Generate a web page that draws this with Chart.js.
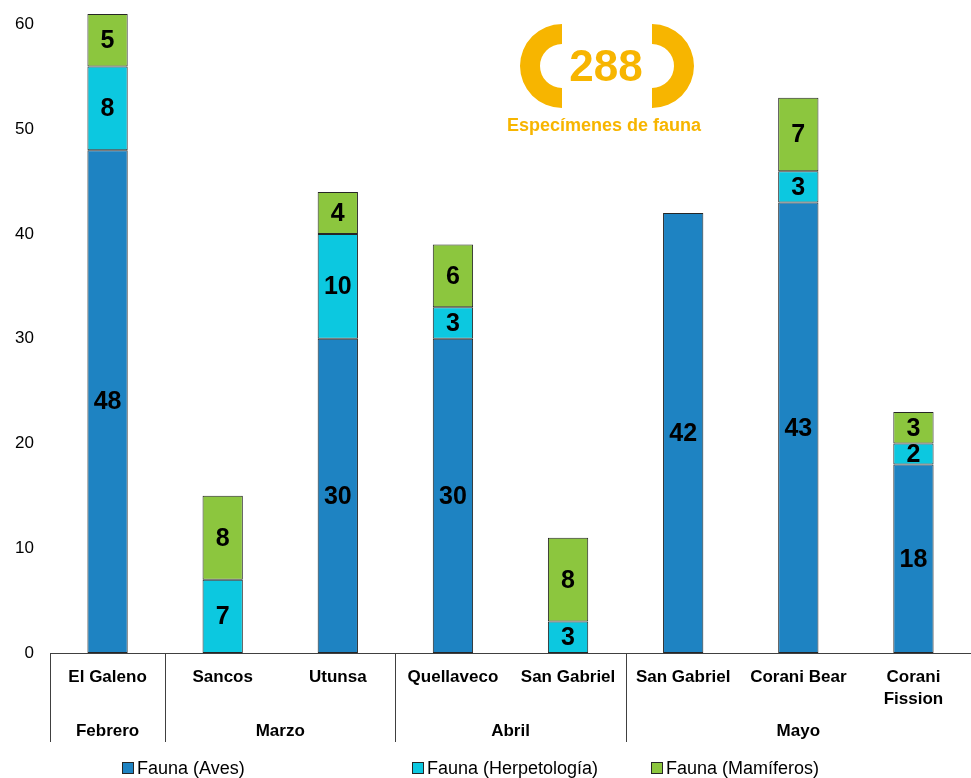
<!DOCTYPE html>
<html>
<head>
<meta charset="utf-8">
<script src="https://cdn.jsdelivr.net/npm/chart.js@4.4.0/dist/chart.umd.min.js"></script>
<style>
  html, body { margin: 0; padding: 0; background: #fff; }
  #wrap { position: relative; width: 971px; height: 778px; }
</style>
</head>
<body>
<div id="wrap"><canvas id="grafica" width="971" height="778"></canvas></div>
<script>
// datos del grafico
var proyectos = ['El Galeno', 'Sancos', 'Utunsa', 'Quellaveco', 'San Gabriel', 'San Gabriel', 'Corani Bear', ['Corani', 'Fission']];
var meses = ['Febrero', 'Marzo', 'Abril', 'Mayo'];
var mesInicio = [0, 1, 3, 5];   // primer proyecto de cada mes
var mesFin = [0, 2, 4, 7];      // ultimo proyecto de cada mes
var aves = [48, 0, 30, 30, 0, 42, 43, 18];
var herpetologia = [8, 7, 10, 3, 3, 0, 3, 2];
var mamiferos = [5, 8, 4, 6, 8, 0, 7, 3];
var marcasY = [0, 10, 20, 30, 40, 50, 60];
var totalEspecimenes = '288';
var subtitulo = 'Especímenes de fauna';

var FUENTE = '"Liberation Sans", Arial, sans-serif';
var NARANJA = '#F7B500';

// etiquetas de valor dentro de cada segmento
var etiquetasPlugin = {
    id: 'etiquetas',
    afterDatasetsDraw: function (chart) {
        var ctx = chart.ctx;
        ctx.save();
        ctx.font = 'bold 25px ' + FUENTE;
        ctx.fillStyle = '#000';
        ctx.textAlign = 'center';
        ctx.textBaseline = 'middle';
        chart.data.datasets.forEach(function (ds, i) {
            var meta = chart.getDatasetMeta(i);
            meta.data.forEach(function (bar, j) {
                var v = ds.data[j];
                if (!v) return;
                ctx.fillText(String(v), bar.x, (bar.y + bar.base) / 2 + 1);
            });
        });
        ctx.restore();
    }
};

// meses, separadores y leyenda debajo del eje
var ejeMesesPlugin = {
    id: 'ejeMeses',
    afterDraw: function (chart) {
        var ctx = chart.ctx;
        var x = chart.scales.x;
        var abajo = chart.chartArea.bottom;
        ctx.save();
        ctx.strokeStyle = '#404040';
        ctx.lineWidth = 1;
        // separadores
        var seps = [chart.chartArea.left];
        for (var k = 1; k < mesInicio.length; k++) {
            var i = mesInicio[k];
            seps.push((x.getPixelForValue(i - 1) + x.getPixelForValue(i)) / 2);
        }
        seps.forEach(function (sx) {
            sx = Math.round(sx) + 0.5;
            ctx.beginPath();
            ctx.moveTo(sx, abajo);
            ctx.lineTo(sx, abajo + 89);
            ctx.stroke();
        });
        // nombres de los meses
        ctx.font = 'bold 17px ' + FUENTE;
        ctx.fillStyle = '#000';
        ctx.textAlign = 'center';
        ctx.textBaseline = 'middle';
        meses.forEach(function (m, k) {
            var cx = (x.getPixelForValue(mesInicio[k]) + x.getPixelForValue(mesFin[k])) / 2;
            ctx.fillText(m, cx, abajo + 78);
        });
        // leyenda
        var posLeyenda = [122, 412, 651];
        ctx.font = '18px ' + FUENTE;
        ctx.textAlign = 'left';
        chart.data.datasets.forEach(function (ds, i) {
            var lx = posLeyenda[i];
            var ly = 768;
            ctx.fillStyle = ds.backgroundColor;
            ctx.fillRect(lx + 0.5, ly - 5.5, 11, 11);
            ctx.strokeStyle = '#262626';
            ctx.strokeRect(lx + 0.5, ly - 5.5, 11, 11);
            ctx.fillStyle = '#000';
            ctx.fillText(ds.label, lx + 15, ly + 1);
        });
        ctx.restore();
    }
};

// logo con el total
var logoPlugin = {
    id: 'logo',
    afterDraw: function (chart) {
        var ctx = chart.ctx;
        ctx.save();
        ctx.fillStyle = NARANJA;
        // corchete izquierdo
        ctx.beginPath();
        ctx.arc(562, 66, 42, Math.PI / 2, Math.PI * 1.5, false);
        ctx.arc(562, 66, 22, Math.PI * 1.5, Math.PI / 2, true);
        ctx.closePath();
        ctx.fill();
        // corchete derecho
        ctx.beginPath();
        ctx.arc(652, 66, 42, -Math.PI / 2, Math.PI / 2, false);
        ctx.arc(652, 66, 22, Math.PI / 2, -Math.PI / 2, true);
        ctx.closePath();
        ctx.fill();
        ctx.textAlign = 'center';
        ctx.textBaseline = 'middle';
        ctx.font = 'bold 44px ' + FUENTE;
        ctx.fillText(totalEspecimenes, 606, 69);
        ctx.font = 'bold 18px ' + FUENTE;
        ctx.fillText(subtitulo, 604, 126);
        ctx.restore();
    }
};

var ctx = document.getElementById('grafica').getContext('2d');
var grafica = new Chart(ctx, {
    type: 'bar',
    data: {
        labels: proyectos,
        datasets: [
            { label: 'Fauna (Aves)', data: aves, backgroundColor: '#1E83C2' },
            { label: 'Fauna (Herpetología)', data: herpetologia, backgroundColor: '#0CC8E0' },
            { label: 'Fauna (Mamíferos)', data: mamiferos, backgroundColor: '#8CC63E' }
        ]
    },
    options: {
        responsive: false,
        animation: false,
        devicePixelRatio: 1,
        layout: { padding: { top: 14, right: 0, left: 0, bottom: 0 } },
        datasets: {
            bar: {
                borderColor: '#262626',
                borderWidth: 1,
                borderSkipped: false,
                categoryPercentage: 1,
                barPercentage: 0.35
            }
        },
        plugins: {
            legend: { display: false },
            tooltip: { enabled: false }
        },
        scales: {
            x: {
                stacked: true,
                grid: { display: false, drawTicks: false },
                border: { display: true, color: '#404040', width: 1 },
                ticks: {
                    color: '#000',
                    padding: 13,
                    maxRotation: 0,
                    autoSkip: false,
                    font: { family: FUENTE, size: 17, weight: 'bold', lineHeight: 1.3 }
                },
                afterFit: function (scale) { scale.height = 125; }
            },
            y: {
                stacked: true,
                min: 0,
                max: 61,
                grid: { display: false, drawTicks: false },
                border: { display: false },
                ticks: {
                    color: '#000',
                    padding: 16,
                    font: { family: FUENTE, size: 17 }
                },
                afterBuildTicks: function (scale) {
                    scale.ticks = marcasY.map(function (v) { return { value: v }; });
                },
                afterFit: function (scale) {
                    scale.width = 50;
                    scale.paddingTop = 0;
                    scale.paddingBottom = 0;
                }
            }
        }
    },
    plugins: [etiquetasPlugin, ejeMesesPlugin, logoPlugin]
});
</script>
</body>
</html>
